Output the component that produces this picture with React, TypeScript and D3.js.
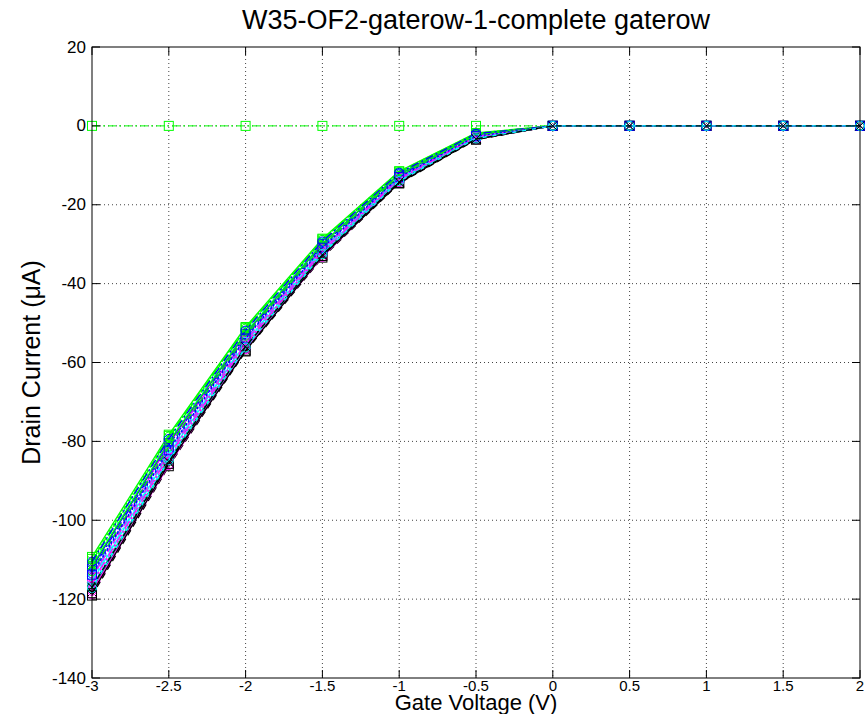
import React from "react";
import * as d3 from "d3";

// Gate sweep (V) and axis ticks
const gateVoltage = [-3, -2.5, -2, -1.5, -1, -0.5, 0, 0.5, 1, 1.5, 2];
const xTicks = [-3, -2.5, -2, -1.5, -1, -0.5, 0, 0.5, 1, 1.5, 2];
const yTicks = [20, 0, -20, -40, -60, -80, -100, -120, -140];

// Drain current (uA) per device
const dev01 = [-109.3, -78.3, -51.0, -28.6, -11.5, -1.8, 0, 0, 0, 0, 0];
const dev02 = [-118.8, -85.9, -56.6, -33.1, -14.3, -3.4, 0, 0, 0, 0, 0];
const dev03 = [-112.6, -81.0, -53.1, -30.3, -12.6, -2.3, 0, 0, 0, 0, 0];
const dev04 = [-111.2, -79.9, -52.2, -29.6, -12.1, -2.1, 0, 0, 0, 0, 0];
const dev05 = [-117.4, -84.9, -56.3, -32.6, -14.1, -3.1, 0, 0, 0, 0, 0];
const dev06 = [-110.2, -79.1, -51.6, -29.1, -11.8, -2.0, 0, 0, 0, 0, 0];
const dev07 = [-114.8, -80.6, -54.0, -31.2, -13.2, -2.7, 0, 0, 0, 0, 0];
const dev08 = [-113.5, -82.1, -53.7, -30.8, -12.9, -2.5, 0, 0, 0, 0, 0];
const dev09 = [-115.6, -83.3, -55.1, -31.7, -13.5, -2.9, 0, 0, 0, 0, 0];
const dev10 = [-119.1, -86.3, -57.2, -33.4, -14.6, -3.5, 0, 0, 0, 0, 0];
const dev11 = [-110.9, -78.8, -51.4, -28.9, -11.7, -1.9, 0, 0, 0, 0, 0];
const dev12 = [-116.3, -84.1, -55.6, -32.0, -13.8, -3.0, 0, 0, 0, 0, 0];
const dev13 = [-112.0, -80.4, -52.7, -29.9, -12.3, -2.2, 0, 0, 0, 0, 0];
const dev14 = [-114.2, -82.6, -54.4, -31.0, -13.1, -2.6, 0, 0, 0, 0, 0];
const dev15 = [-118.2, -85.4, -56.9, -32.9, -14.4, -3.3, 0, 0, 0, 0, 0];
const dev16 = [-109.8, -78.6, -51.3, -28.8, -11.6, -1.9, 0, 0, 0, 0, 0];
const dev17 = [-117.9, -86.0, -56.5, -33.2, -14.2, -3.2, 0, 0, 0, 0, 0];
const dev18 = [-113.1, -81.6, -53.4, -30.5, -12.8, -2.4, 0, 0, 0, 0, 0];
const dev19 = [-115.1, -83.0, -54.8, -31.5, -13.4, -2.8, 0, 0, 0, 0, 0];
const dev20 = [-116.9, -84.6, -55.9, -32.3, -13.9, -3.1, 0, 0, 0, 0, 0];
const dev21 = [-111.6, -80.1, -52.5, -29.8, -12.2, -2.2, 0, 0, 0, 0, 0];
const dev22 = [-114.5, -82.9, -54.6, -31.3, -13.2, -2.7, 0, 0, 0, 0, 0];
const dev23 = [-110.5, -79.4, -51.9, -29.3, -11.9, -2.0, 0, 0, 0, 0, 0];
const dev24 = [-116.6, -84.4, -55.8, -32.2, -13.9, -3.0, 0, 0, 0, 0, 0];
const dev25 = [-118.5, -85.7, -57.0, -33.0, -14.5, -3.4, 0, 0, 0, 0, 0];
const dev26 = [-112.9, -81.3, -53.2, -30.4, -12.7, -2.4, 0, 0, 0, 0, 0];
const dev27 = [-115.9, -83.7, -55.3, -31.9, -13.6, -2.9, 0, 0, 0, 0, 0];
const dev28 = [-113.8, -82.3, -53.9, -30.9, -13.0, -2.6, 0, 0, 0, 0, 0];
const dev29 = [-117.2, -84.8, -56.2, -32.5, -14.0, -3.2, 0, 0, 0, 0, 0];
const dev30 = [-117.0, -85.1, -56.0, -32.7, -14.2, -3.3, 0, 0, 0, 0, 0];
const devDead = [0, 0, 0, 0, 0, 0, 0, 0, 0, 0, 0];

const devices = [
  dev01, dev02, dev03, dev04, dev05, dev06, dev07, dev08, dev09, dev10,
  dev11, dev12, dev13, dev14, dev15, dev16, dev17, dev18, dev19, dev20,
  dev21, dev22, dev23, dev24, dev25, dev26, dev27, dev28, dev29, dev30,
];

const W = 865;
const H = 714;
const m = { t: 47, r: 5, b: 36, l: 92 };

const colors = ["#00ff00", "#ff00ff", "#0000ff", "#00ffff", "#000000"];
const dashes = ["none", "6,4", "8,3,2,3", "2,2"];
const markers = ["square", "circle", "x"];

function Marker({ kind, x, y, color }: { kind: string; x: number; y: number; color: string }) {
  const s = 4.5;
  if (kind === "square")
    return <rect x={x - s} y={y - s} width={2 * s} height={2 * s} fill="none" stroke={color} strokeWidth={1} />;
  if (kind === "x")
    return (
      <path d={`M${x - s},${y - s}L${x + s},${y + s}M${x - s},${y + s}L${x + s},${y - s}`} stroke={color} strokeWidth={1} />
    );
  return <circle cx={x} cy={y} r={s} fill="none" stroke={color} strokeWidth={1} />;
}

export default function App() {
  const x = d3.scaleLinear().domain([-3, 2]).range([m.l, W - m.r]);
  const y = d3.scaleLinear().domain([-140, 20]).range([H - m.b, m.t]);
  const line = d3
    .line<number>()
    .x((_, i) => x(gateVoltage[i]))
    .y(d => y(d));

  const font = "'Liberation Sans', Arial, Helvetica, sans-serif";
  const tick = 8;

  return (
    <svg width={W} height={H} style={{ position: "absolute", left: 0, top: 0, background: "#fff" }} fontFamily={font}>
      {/* grid */}
      {xTicks.slice(1, -1).map(t => (
        <line key={"gx" + t} x1={x(t)} x2={x(t)} y1={m.t} y2={H - m.b} stroke="#444" strokeDasharray="1,3" />
      ))}
      {yTicks.slice(1, -1).map(t => (
        <line key={"gy" + t} x1={m.l} x2={W - m.r} y1={y(t)} y2={y(t)} stroke="#444" strokeDasharray="1,3" />
      ))}

      {/* dead device, flat at zero */}
      <path d={line(devDead) || ""} fill="none" stroke="#00ff00" strokeDasharray="8,3,2,3" />
      {devDead.map((d, i) => (
        <Marker key={"dd" + i} kind="square" x={x(gateVoltage[i])} y={y(d)} color="#00ff00" />
      ))}

      {devices.map((dev, k) => {
        const c = colors[k % 5];
        return (
          <g key={"dev" + k}>
            <path d={line(dev) || ""} fill="none" stroke={c} strokeWidth={1.3} strokeDasharray={dashes[k % 4]} />
            {dev.map((d, i) => (
              <Marker key={i} kind={markers[k % 3]} x={x(gateVoltage[i])} y={y(d)} color={c} />
            ))}
          </g>
        );
      })}

      {/* frame and ticks */}
      <rect x={m.l} y={m.t} width={W - m.r - m.l} height={H - m.b - m.t} fill="none" stroke="#000" />
      {xTicks.map(t => (
        <g key={"tx" + t}>
          <line x1={x(t)} x2={x(t)} y1={H - m.b} y2={H - m.b - tick} stroke="#000" />
          <line x1={x(t)} x2={x(t)} y1={m.t} y2={m.t + tick} stroke="#000" />
          <text x={x(t)} y={H - m.b + 13} textAnchor="middle" fontSize={15}>
            {String(t)}
          </text>
        </g>
      ))}
      {yTicks.map(t => (
        <g key={"ty" + t}>
          <line x1={m.l} x2={m.l + tick} y1={y(t)} y2={y(t)} stroke="#000" />
          <line x1={W - m.r} x2={W - m.r - tick} y1={y(t)} y2={y(t)} stroke="#000" />
          <text x={m.l - 6} y={y(t)} textAnchor="end" dominantBaseline="central" fontSize={17}>
            {String(t)}
          </text>
        </g>
      ))}

      {/* titles */}
      <text x={(m.l + W - m.r) / 2} y={29} textAnchor="middle" fontSize={27}>
        W35-OF2-gaterow-1-complete gaterow
      </text>
      <text x={(m.l + W - m.r) / 2} y={710} textAnchor="middle" fontSize={22}>
        Gate Voltage (V)
      </text>
      <text transform={`translate(40,${(m.t + H - m.b) / 2}) rotate(-90)`} textAnchor="middle" fontSize={25}>
        Drain Current (μA)
      </text>
    </svg>
  );
}
